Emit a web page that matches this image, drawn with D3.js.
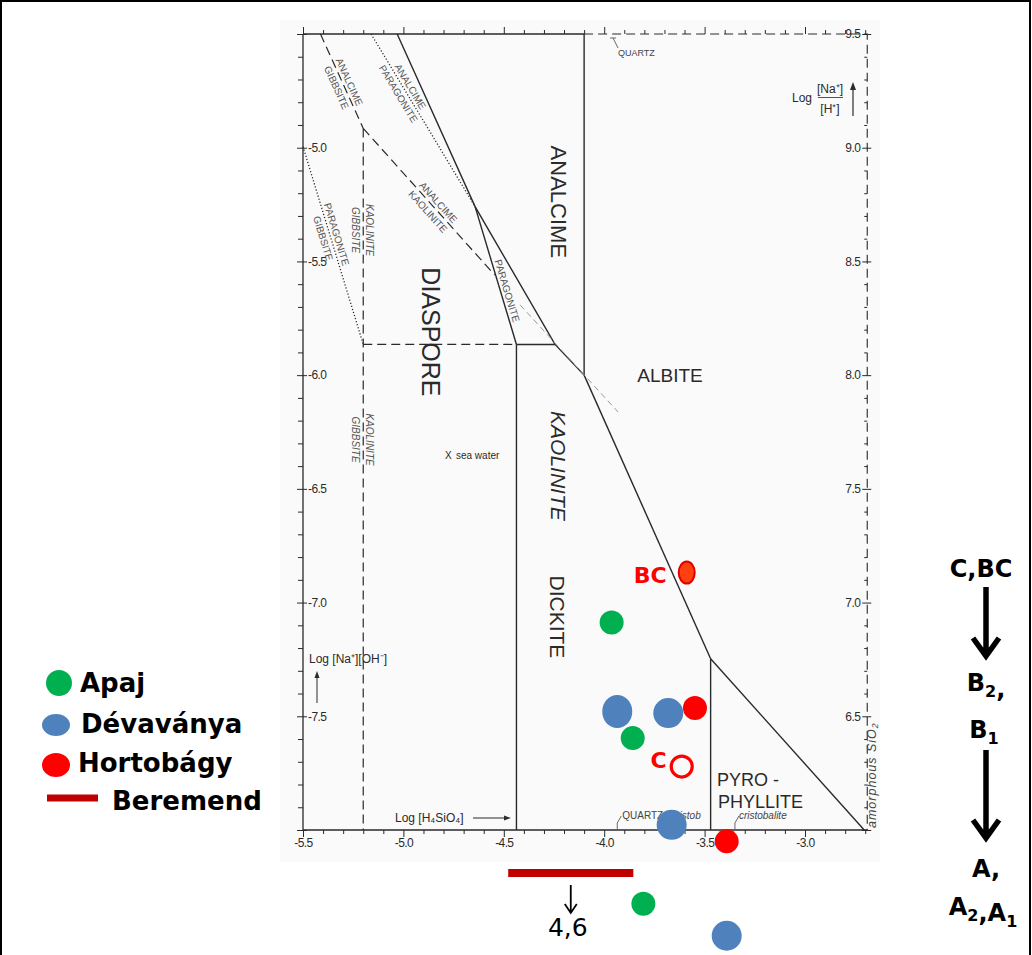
<!DOCTYPE html>
<html>
<head>
<meta charset="utf-8">
<script src="https://cdn.jsdelivr.net/npm/d3@7"></script>
<style>
body { margin: 0; background: #fff; }
svg { display: block; font-family: "Liberation Sans", Arial, sans-serif; }
</style>
</head>
<body>
<div id="chart"></div>
<script>
const width = 1032, height = 955;

// tick values: log[H4SiO4] along x, log([Na+]/[H+]) right, log([Na+][OH-]) left
const xTicks = d3.range(0, 29).map(i => +(-5.5 + i * 0.1).toFixed(1));
const naHTicks = d3.range(0, 36).map(i => +(9.5 - i * 0.1).toFixed(1));
const naOHTicks = naHTicks.map(v => +(v - 14).toFixed(1));
const naHLabels = [9.5, 9.0, 8.5, 8.0, 7.5, 7.0, 6.5];
const naOHLabels = [-5.0, -5.5, -6.0, -6.5, -7.0, -7.5];
const xLabels = [-5.5, -5.0, -4.5, -4.0, -3.5, -3.0];
const xMax = -2.69;

// phase boundaries, [log H4SiO4, log Na/H]
const solidLines = [
    [[-5.031, 9.5], [-4.643, 8.741], [-4.245, 8.135], [-4.10, 8.0]],
    [[-4.10, 8.0], [-4.10, 9.5]],
    [[-4.10, 8.0], [-3.47, 6.753]],
    [[-3.47, 6.753], [-3.47, 6.0]],
    [[-3.47, 6.753], [-2.705, 6.0]],
    [[-4.643, 8.741], [-4.437, 8.135]],
    [[-4.437, 8.135], [-4.245, 8.135]],
    [[-4.437, 8.135], [-4.437, 6.0]]
];
const dashedLines = [
    [[-5.413, 9.5], [-5.20, 9.085]],
    [[-5.20, 9.085], [-4.545, 8.44]],
    [[-5.20, 9.085], [-5.20, 6.0]],
    [[-5.20, 8.135], [-4.437, 8.135]]
];
const dottedLines = [
    [[-5.161, 9.5], [-4.643, 8.741]],
    [[-5.50, 9.005], [-5.20, 8.135]]
];
const faintLines = [
    [[-4.419, 8.309], [-3.931, 7.838]]
];
const frameSolid = [
    [[-5.5, 9.5], [-5.5, 6.0], [xMax, 6.0]],
    [[-5.5, 9.5], [-4.10, 9.5]]
];
const frameDashed = [
    [[-4.10, 9.5], [xMax, 9.5], [xMax, 6.0]]
];

const boundaryLabels = [
    {seg: dashedLines[0], t: 0.535, top: "ANALCIME", bottom: "GIBBSITE"},
    {seg: dottedLines[0], t: 0.324, top: "ANALCIME", bottom: "PARAGONITE"},
    {seg: dashedLines[1], t: 0.534, top: "ANALCIME", bottom: "KAOLINITE"},
    {seg: dashedLines[2], t: 0.145, top: "KAOLINITE", bottom: "GIBBSITE", italic: true},
    {seg: dashedLines[2], t: 0.4435, top: "KAOLINITE", bottom: "GIBBSITE", italic: true},
    {seg: dottedLines[1], t: 0.453, top: "PARAGONITE", bottom: "GIBBSITE"},
    {seg: solidLines[5], t: 0.624, top: "PARAGONITE", bottom: ""}
];

const regionNames = ["ANALCIME", "DIASPORE", "KAOLINITE", "DICKITE"];
const regionX = [-4.23, -4.863, -4.23, -4.235];
const regionY = [8.762, 8.19, 7.601, 6.937];

// samples
const apaj = [[-3.963, 6.912], [-3.858, 6.404], [-3.805, 5.676]];
const devavanya = [[-3.935, 6.521], [-3.681, 6.514], [-3.664, 6.023], [-3.39, 5.535]];
const hortobagy = [[-3.548, 6.536], [-3.39, 5.95]];
const hortobagyBC = [-3.589, 7.132];
const hortobagyC = [-3.614, 6.279];
const beremend = [[-4.478, 5.811], [-3.855, 5.811]];
const beremendValue = "4,6";

const green = "#00b050", blue = "#4f81bd", red = "#ff0000", darkRed = "#c00000";
const ink = "#2a2a2a";

let x = d3.scaleLinear().domain([-5.5, -3.0]).range([303, 805]);
let yR = d3.scaleLinear().domain([9.5, 6.0]).range([34, 830]);
let yL = d3.scaleLinear().domain([-4.5, -8.0]).range([34, 830]);

let svg = d3.select("#chart")
    .append("svg")
    .attr("width", width)
    .attr("height", height);

svg.append("rect")
    .attr("x", 1).attr("y", 1)
    .attr("width", width - 3).attr("height", height + 5)
    .attr("fill", "#fff").attr("stroke", "#000").attr("stroke-width", 2);

// the scanned sheet
svg.append("rect")
    .attr("x", 280).attr("y", 20)
    .attr("width", 600).attr("height", 842)
    .attr("fill", "#fafafa");

let line = d3.line().x(d => x(d[0])).y(d => yR(d[1]));
let isMajor = d => Math.abs(d * 2 - Math.round(d * 2)) < 1e-6;
let hasLabel = list => d => list.some(v => Math.abs(v - d) < 1e-6);

function drawLines(data, stroke, sw, dash) {
    svg.append("g").selectAll("path").data(data).join("path")
        .attr("d", line)
        .attr("fill", "none")
        .attr("stroke", stroke)
        .attr("stroke-width", sw)
        .attr("stroke-dasharray", dash);
}

drawLines(frameSolid, ink, 1.3, null);
drawLines(frameDashed, ink, 1.1, "9,5");
drawLines(solidLines, ink, 1.4, null);
drawLines(dashedLines, ink, 1.2, "9,5");
drawLines(dottedLines, ink, 1.3, "1.2,2");
drawLines(faintLines, "#999", 1, "6,4");

// axes
let leftAxis = svg.append("g")
    .attr("transform", `translate(${x(-5.5)},0)`)
    .call(d3.axisLeft(yL).tickValues(naOHTicks).tickSize(5)
        .tickFormat(d => hasLabel(naOHLabels)(d) ? d.toFixed(1) : ""));
leftAxis.select(".domain").remove();
leftAxis.selectAll(".tick line").attr("stroke", ink)
    .attr("x1", d => isMajor(d) ? 4 : 0).attr("x2", d => isMajor(d) ? -6 : -5);
leftAxis.selectAll(".tick text").attr("x", 5).attr("text-anchor", "start")
    .attr("fill", ink).style("font-size", "12px").style("letter-spacing", "-0.6px");

let bottomAxis = svg.append("g")
    .attr("transform", `translate(0,${yR(6.0)})`)
    .call(d3.axisBottom(x).tickValues(xTicks).tickSize(4)
        .tickFormat(d => hasLabel(xLabels)(d) ? d.toFixed(1) : ""));
bottomAxis.select(".domain").remove();
bottomAxis.selectAll(".tick line").attr("stroke", ink).attr("y2", d => isMajor(d) ? 7 : 4);
bottomAxis.selectAll(".tick text").attr("y", 8)
    .attr("fill", ink).style("font-size", "12px").style("letter-spacing", "-0.6px");

let topAxis = svg.append("g")
    .attr("transform", `translate(0,${yR(9.5)})`)
    .call(d3.axisTop(x).tickValues(xTicks.filter(d => d <= xMax)).tickSize(4).tickFormat(""));
topAxis.select(".domain").remove();
topAxis.selectAll(".tick line").attr("stroke", ink).attr("y2", d => isMajor(d) ? -7 : -4);

let rightAxis = svg.append("g")
    .attr("transform", `translate(${x(xMax)},0)`)
    .call(d3.axisLeft(yR).tickValues(naHTicks).tickSize(3)
        .tickFormat(d => hasLabel(naHLabels)(d) ? d.toFixed(1) : ""));
rightAxis.select(".domain").remove();
rightAxis.selectAll(".tick line").attr("stroke", ink)
    .attr("x1", d => isMajor(d) ? 4 : 0).attr("x2", d => isMajor(d) ? -5 : -3);
rightAxis.selectAll(".tick text").attr("x", -7)
    .attr("fill", ink).style("font-size", "12px").style("letter-spacing", "-0.6px");

// boundary labels sitting on their lines
function along(seg, t) {
    let x0 = x(seg[0][0]), y0 = yR(seg[0][1]), x1 = x(seg[1][0]), y1 = yR(seg[1][1]);
    return {
        px: x0 + (x1 - x0) * t,
        py: y0 + (y1 - y0) * t,
        angle: Math.atan2(y1 - y0, x1 - x0) * 180 / Math.PI
    };
}
let bl = svg.append("g").selectAll("g").data(boundaryLabels).join("g")
    .attr("transform", d => {
        let p = along(d.seg, d.t);
        return `translate(${p.px},${p.py}) rotate(${p.angle})`;
    })
    .style("font-size", "10px")
    .style("font-style", d => d.italic ? "italic" : "normal")
    .attr("fill", "#555")
    .attr("text-anchor", "middle");
bl.append("text").attr("y", -3).text(d => d.top);
bl.append("text").attr("y", 11).text(d => d.bottom);

// region names
svg.append("g").selectAll("text").data(regionNames).join("text")
    .attr("transform", (d, i) => `translate(${x(regionX[i])},${yR(regionY[i])}) rotate(90)`)
    .attr("text-anchor", "middle")
    .attr("dominant-baseline", "central")
    .style("font-size", (d, i) => [22, 25, 21, 21][i] + "px")
    .style("font-style", d => d === "KAOLINITE" ? "italic" : "normal")
    .attr("fill", ink)
    .text(d => d);

svg.append("text")
    .attr("x", x(-3.672)).attr("y", yR(7.997))
    .attr("text-anchor", "middle").attr("dominant-baseline", "central")
    .style("font-size", "19px").attr("fill", ink)
    .text("ALBITE");
svg.append("text")
    .attr("x", x(-3.438)).attr("y", yR(6.194))
    .style("font-size", "18px").attr("fill", ink).text("PYRO -");
svg.append("text")
    .attr("x", x(-3.433)).attr("y", yR(6.097))
    .style("font-size", "18px").attr("fill", ink).text("PHYLLITE");

svg.append("text").attr("x", x(-4.793)).attr("y", yR(7.632))
    .style("font-size", "10px").attr("fill", ink).text("X");
svg.append("text").attr("x", x(-4.793) + 11).attr("y", yR(7.632))
    .style("font-size", "10px").attr("fill", ink).text("sea water");

// saturation notes
let notes = svg.append("g").attr("fill", "#444").attr("stroke", "#444").attr("stroke-width", 0.8);
notes.append("path").attr("fill", "none")
    .attr("d", `M${x(-3.956) - 3},${yR(9.5) + 4}h6M${x(-3.956)},${yR(9.5) + 4}l5,10`);
notes.append("text").attr("stroke", "none").attr("x", x(-3.956) + 5).attr("y", 56)
    .style("font-size", "9px").text("QUARTZ");
notes.append("path").attr("fill", "none")
    .attr("d", `M${x(-3.935)},${yR(6.0) - 1}v-6l4,-7`);
notes.append("text").attr("stroke", "none").attr("x", x(-3.935) + 5).attr("y", 819)
    .style("font-size", "10px").text("QUARTZ");
notes.append("text").attr("stroke", "none").attr("x", x(-3.935) + 54).attr("y", 819)
    .style("font-size", "10px").style("font-style", "italic").text("cristob");
notes.append("path").attr("fill", "none")
    .attr("d", `M${x(-3.349)},${yR(6.0) - 1}v-6l4,-7`);
notes.append("text").attr("stroke", "none").attr("x", x(-3.349) + 4).attr("y", 819)
    .style("font-size", "10px").style("font-style", "italic").text("cristobalite");
svg.append("text")
    .attr("transform", `translate(${x(xMax) + 9},828) rotate(-90)`)
    .style("font-size", "12.5px").style("font-style", "italic").style("letter-spacing", "1px")
    .attr("fill", "#444").text("amorphous SiO₂");

// axis titles
let titles = svg.append("g").attr("fill", ink).style("font-size", "12px");
titles.append("text").attr("x", 792).attr("y", 102).text("Log");
titles.append("text").attr("x", 830).attr("y", 93).attr("text-anchor", "middle").text("[Na⁺]");
titles.append("line").attr("x1", 818).attr("x2", 843).attr("y1", 97.5).attr("y2", 97.5)
    .attr("stroke", ink).attr("stroke-width", 0.8);
titles.append("text").attr("x", 830).attr("y", 113).attr("text-anchor", "middle").text("[H⁺]");
titles.append("line").attr("x1", 853).attr("x2", 853).attr("y1", 116).attr("y2", 88)
    .attr("stroke", ink).attr("stroke-width", 1.2);
titles.append("path").attr("d", "M853,82l-3,8h6z");

titles.append("text").attr("x", 309).attr("y", 663).text("Log [Na⁺][OH⁻]");
titles.append("line").attr("x1", 317).attr("x2", 317).attr("y1", 703).attr("y2", 677)
    .attr("stroke", ink).attr("stroke-width", 1);
titles.append("path").attr("d", "M317,671l-2.5,7h5z");

titles.append("text").attr("x", 395).attr("y", 822).text("Log [H₄SiO₄]");
titles.append("line").attr("x1", 473).attr("x2", 505).attr("y1", 818).attr("y2", 818)
    .attr("stroke", ink).attr("stroke-width", 1);
titles.append("path").attr("d", "M511,818l-7,-2.5v5z");

// sample overlays
svg.append("line")
    .attr("x1", x(beremend[0][0])).attr("x2", x(beremend[1][0]))
    .attr("y1", yR(beremend[0][1])).attr("y2", yR(beremend[1][1]))
    .attr("stroke", darkRed).attr("stroke-width", 8);
let bmid = x((beremend[0][0] + beremend[1][0]) / 2);
svg.append("path")
    .attr("d", `M${bmid},${yR(beremend[0][1]) + 12}V${yR(beremend[0][1]) + 40}M${bmid - 6},${yR(beremend[0][1]) + 31}L${bmid},${yR(beremend[0][1]) + 40}L${bmid + 6},${yR(beremend[0][1]) + 31}`)
    .attr("fill", "none").attr("stroke", "#000").attr("stroke-width", 1.8);
svg.append("text")
    .attr("x", bmid - 3).attr("y", yR(beremend[0][1]) + 63)
    .attr("text-anchor", "middle")
    .style("font-family", "'DejaVu Sans', sans-serif").style("font-size", "25px")
    .text(beremendValue);

svg.append("g").selectAll("circle").data(apaj).join("circle")
    .attr("cx", d => x(d[0])).attr("cy", d => yR(d[1])).attr("r", 12).attr("fill", green);
svg.append("g").selectAll("ellipse").data(devavanya).join("ellipse")
    .attr("cx", d => x(d[0])).attr("cy", d => yR(d[1]))
    .attr("rx", 15).attr("ry", (d, i) => i === 0 ? 16.5 : 15).attr("fill", blue);
svg.append("g").selectAll("circle").data(hortobagy).join("circle")
    .attr("cx", d => x(d[0])).attr("cy", d => yR(d[1])).attr("r", 12).attr("fill", red);
svg.append("ellipse")
    .attr("cx", x(hortobagyBC[0])).attr("cy", yR(hortobagyBC[1]))
    .attr("rx", 8).attr("ry", 11)
    .attr("fill", "#ff4010").attr("stroke", "#e00000").attr("stroke-width", 2);
svg.append("circle")
    .attr("cx", x(hortobagyC[0])).attr("cy", yR(hortobagyC[1])).attr("r", 10.5)
    .attr("fill", "none").attr("stroke", red).attr("stroke-width", 3.2);

let bold = "'DejaVu Sans', sans-serif";
svg.append("text")
    .attr("x", x(hortobagyBC[0]) - 20).attr("y", yR(hortobagyBC[1]) + 10)
    .attr("text-anchor", "end").attr("fill", red)
    .style("font-family", bold).style("font-weight", 700).style("font-size", "22px")
    .text("BC");
svg.append("text")
    .attr("x", x(hortobagyC[0]) - 15).attr("y", yR(hortobagyC[1]) + 1)
    .attr("text-anchor", "end").attr("fill", red)
    .style("font-family", bold).style("font-weight", 700).style("font-size", "22px")
    .text("C");

// legend
let legend = svg.append("g")
    .style("font-family", bold).style("font-weight", 700).style("font-size", "26px");
legend.append("circle").attr("cx", 59).attr("cy", 683).attr("r", 13).attr("fill", green);
legend.append("text").attr("x", 80).attr("y", 692).text("Apaj");
legend.append("ellipse").attr("cx", 56).attr("cy", 725).attr("rx", 14).attr("ry", 11).attr("fill", blue);
legend.append("text").attr("x", 81).attr("y", 733).text("Dévaványa");
legend.append("ellipse").attr("cx", 56).attr("cy", 765).attr("rx", 14).attr("ry", 12).attr("fill", red);
legend.append("text").attr("x", 78).attr("y", 772).text("Hortobágy");
legend.append("line").attr("x1", 47).attr("x2", 98).attr("y1", 798).attr("y2", 798)
    .attr("stroke", darkRed).attr("stroke-width", 7);
legend.append("text").attr("x", 112).attr("y", 810).text("Beremend");

// horizon sequence on the right
let seq = svg.append("g")
    .style("font-family", bold).style("font-weight", 700).style("font-size", "24px")
    .attr("text-anchor", "middle");
function sub(t, main, s) {
    t.append("tspan").text(main);
    t.append("tspan").attr("dy", 6).style("font-size", "16px").text(s);
    t.append("tspan").attr("dy", -6).text("");
}
seq.append("text").attr("x", 981).attr("y", 577).text("C,BC");
let b2 = seq.append("text").attr("x", 986).attr("y", 691);
sub(b2, "B", "2"); b2.append("tspan").text(",");
let b1 = seq.append("text").attr("x", 984).attr("y", 738);
sub(b1, "B", "1");
seq.append("text").attr("x", 986).attr("y", 877).text("A,");
let a21 = seq.append("text").attr("x", 983).attr("y", 915);
sub(a21, "A", "2"); a21.append("tspan").text(","); sub(a21, "A", "1");

let arrows = [[587, 658], [750, 840]];
svg.append("g").selectAll("path").data(arrows).join("path")
    .attr("d", d => `M986,${d[0]}V${d[1] - 3}M973,${d[1] - 20}L986,${d[1] - 2}L999,${d[1] - 20}`)
    .attr("fill", "none").attr("stroke", "#000").attr("stroke-width", 5.5);
</script>
</body>
</html>
